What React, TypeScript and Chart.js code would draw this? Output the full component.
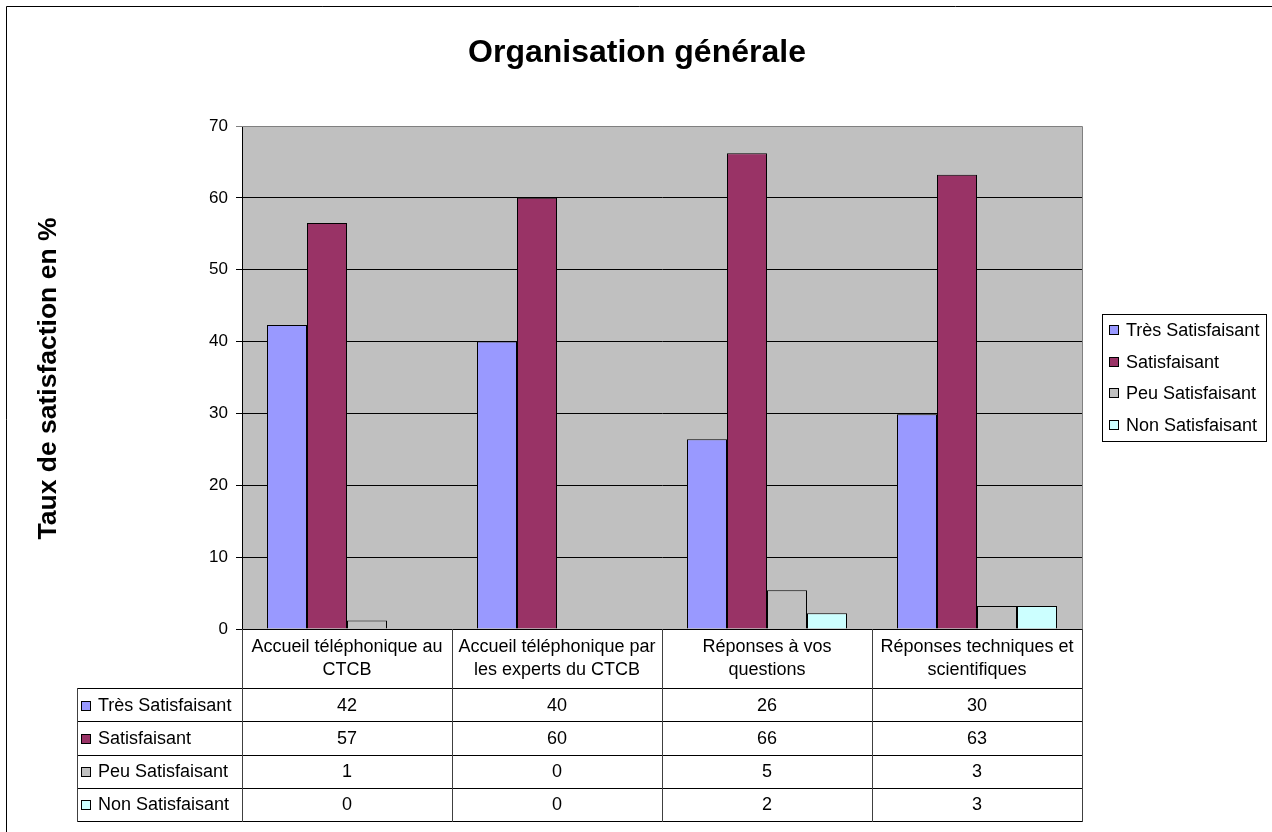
import React, { useEffect, useRef } from "react";
import { Chart, registerables } from "chart.js";

Chart.register(...registerables);

const chartTitle = "Organisation générale";
const yAxisTitle = "Taux de satisfaction en %";
const categories: string[][] = [
  ["Accueil téléphonique au", "CTCB"],
  ["Accueil téléphonique par", "les experts du CTCB"],
  ["Réponses à vos", "questions"],
  ["Réponses techniques et", "scientifiques"],
];
const seriesNames = ["Très Satisfaisant", "Satisfaisant", "Peu Satisfaisant", "Non Satisfaisant"];
const tresSatisfaisant = [42.3, 40.0, 26.4, 29.9];
const satisfaisant = [56.5, 60.0, 66.2, 63.2];
const peuSatisfaisant = [1.2, 0, 5.4, 3.2];
const nonSatisfaisant = [0, 0, 2.2, 3.2];
const seriesColors = ["#9999FF", "#993366", "#C0C0C0", "#CCFFFF"];
const yMin = 0;
const yMax = 70;
const yStep = 10;

const FONT = '"Liberation Sans", Arial, Helvetica, sans-serif';

const decorPlugin = {
  id: "decor",
  beforeDraw(chart: any) {
    const { ctx, chartArea: a } = chart;
    ctx.save();
    ctx.fillStyle = "#FFFFFF";
    ctx.fillRect(0, 0, chart.width, chart.height);
    ctx.fillStyle = "#C0C0C0";
    ctx.fillRect(a.left, a.top, a.right - a.left, a.bottom - a.top);
    ctx.restore();
  },
  afterDraw(chart: any) {
    const { ctx, chartArea: a } = chart;
    const datasets = chart.data.datasets;
    const labels = chart.data.labels as string[][];
    ctx.save();

    // outer frame (left and top edges visible)
    ctx.strokeStyle = "#000";
    ctx.lineWidth = 1;
    ctx.beginPath();
    ctx.moveTo(6.5, chart.height);
    ctx.lineTo(6.5, 6.5);
    ctx.lineTo(chart.width, 6.5);
    ctx.stroke();

    // plot area right/top border (grey)
    ctx.strokeStyle = "#808080";
    ctx.beginPath();
    ctx.moveTo(Math.round(a.left), Math.round(a.top) + 0.5);
    ctx.lineTo(Math.round(a.right) + 0.5, Math.round(a.top) + 0.5);
    ctx.lineTo(Math.round(a.right) + 0.5, Math.round(a.bottom));
    ctx.stroke();

    // title
    ctx.fillStyle = "#000";
    ctx.font = `bold 32px ${FONT}`;
    ctx.textAlign = "center";
    ctx.textBaseline = "alphabetic";
    ctx.fillText(chartTitle, 637, 62);

    // y axis title
    ctx.save();
    ctx.translate(56, (a.top + a.bottom) / 2 + 1);
    ctx.rotate(-Math.PI / 2);
    ctx.font = `bold 26.5px ${FONT}`;
    ctx.textAlign = "center";
    ctx.textBaseline = "alphabetic";
    ctx.fillText(yAxisTitle, 0, 0);
    ctx.restore();

    // data table
    const n = labels.length;
    const colW = (a.right - a.left) / n;
    const top = Math.round(a.bottom);
    const headerBottom = top + 59;
    const rowH = 33.25;
    const tableLeft = 77;
    const tableRight = Math.round(a.right);
    const tableBottom = headerBottom + rowH * datasets.length;

    ctx.lineWidth = 1;
    ctx.strokeStyle = "#000";
    for (let r = 0; r <= datasets.length; r++) {
      const y = Math.round(headerBottom + r * rowH) + 0.5;
      ctx.beginPath();
      ctx.moveTo(tableLeft, y);
      ctx.lineTo(tableRight + 1, y);
      ctx.stroke();
    }
    ctx.strokeStyle = "#404040";
    for (let c = 0; c <= n; c++) {
      const x = Math.round(a.left + c * colW) + 0.5;
      ctx.beginPath();
      ctx.moveTo(x, top);
      ctx.lineTo(x, Math.round(tableBottom) + 1);
      ctx.stroke();
    }
    ctx.beginPath();
    ctx.moveTo(tableLeft + 0.5, headerBottom);
    ctx.lineTo(tableLeft + 0.5, Math.round(tableBottom) + 1);
    ctx.stroke();

    ctx.fillStyle = "#000";
    ctx.font = `18px ${FONT}`;
    ctx.textAlign = "center";
    ctx.textBaseline = "middle";
    for (let c = 0; c < n; c++) {
      const cx = a.left + (c + 0.5) * colW;
      const lines = labels[c];
      lines.forEach((t: string, i: number) => {
        ctx.fillText(t, cx, top + 18 + i * 23.5);
      });
    }
    datasets.forEach((ds: any, r: number) => {
      const cy = headerBottom + r * rowH + rowH / 2 + 1;
      for (let c = 0; c < n; c++) {
        const cx = a.left + (c + 0.5) * colW;
        ctx.fillStyle = "#000";
        ctx.textAlign = "center";
        ctx.fillText(String(Math.round(ds.data[c])), cx, cy);
      }
      ctx.fillStyle = ds.backgroundColor;
      ctx.fillRect(81.5, Math.round(cy) - 4.5, 9, 9);
      ctx.strokeStyle = "#000";
      ctx.strokeRect(81.5, Math.round(cy) - 4.5, 9, 9);
      ctx.fillStyle = "#000";
      ctx.textAlign = "left";
      ctx.fillText(ds.label, 98, cy);
    });

    // legend
    const lx = 1102.5, ly = 314.5, lw = 164, lh = 127;
    ctx.strokeStyle = "#000";
    ctx.strokeRect(lx, ly, lw, lh);
    datasets.forEach((ds: any, i: number) => {
      const cy = 330 + i * 31.7;
      ctx.fillStyle = ds.backgroundColor;
      ctx.fillRect(1109.5, Math.round(cy) - 4.5, 9, 9);
      ctx.strokeStyle = "#000";
      ctx.strokeRect(1109.5, Math.round(cy) - 4.5, 9, 9);
      ctx.fillStyle = "#000";
      ctx.textAlign = "left";
      ctx.textBaseline = "middle";
      ctx.fillText(ds.label, 1126, cy + 1);
    });

    ctx.restore();
  },
};

export default function App() {
  const ref = useRef<HTMLCanvasElement | null>(null);
  useEffect(() => {
    if (!ref.current) return;
    const values = [tresSatisfaisant, satisfaisant, peuSatisfaisant, nonSatisfaisant];
    const chart = new Chart(ref.current, {
      type: "bar",
      data: {
        labels: categories as any,
        datasets: seriesNames.map((name, i) => ({
          label: name,
          data: values[i],
          backgroundColor: seriesColors[i],
          borderColor: "#000000",
          borderWidth: 1,
          borderSkipped: "start" as const,
          categoryPercentage: 160 / 210,
          barPercentage: 1.0,
        })),
      },
      options: {
        responsive: false,
        animation: false,
        events: [],
        layout: { padding: { left: 0, top: 126, right: 190, bottom: 203 } },
        plugins: {
          legend: { display: false },
          title: { display: false },
          tooltip: { enabled: false },
        },
        scales: {
          x: { display: false },
          y: {
            min: yMin,
            max: yMax,
            afterFit: (s: any) => {
              s.width = 242;
            },
            ticks: {
              stepSize: yStep,
              color: "#000",
              padding: 8,
              font: { family: FONT, size: 17 },
            },
            grid: {
              color: (c: any) => (c.tick && c.tick.value === yMax ? "#808080" : "#000000"),
              lineWidth: 1,
              tickLength: 6,
              drawTicks: true,
            },
            border: { display: true, color: "#000000", width: 1 },
          },
        },
      },
      plugins: [decorPlugin],
    });
    return () => chart.destroy();
  }, []);
  return (
    <canvas
      ref={ref}
      width={1272}
      height={832}
      style={{ position: "fixed", left: 0, top: 0, display: "block", width: 1272, height: 832 }}
    />
  );
}
